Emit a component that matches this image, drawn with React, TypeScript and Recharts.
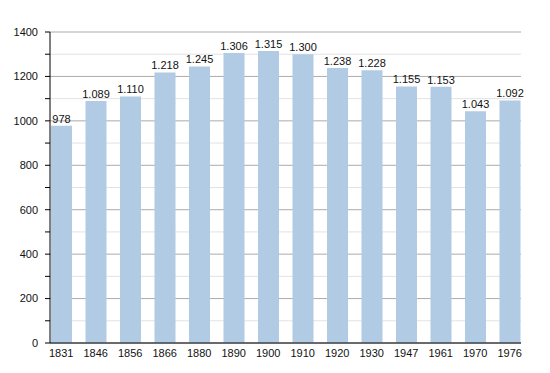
import React from 'react'
import { BarChart, Bar, XAxis, YAxis, CartesianGrid, LabelList } from 'recharts';

const years: string[] = ['1831', '1846', '1856', '1866', '1880', '1890', '1900', '1910', '1920', '1930', '1947', '1961', '1970', '1976'];
const population: number[] = [978, 1089, 1110, 1218, 1245, 1306, 1315, 1300, 1238, 1228, 1155, 1153, 1043, 1092];
const yTicks: number[] = [0, 100, 200, 300, 400, 500, 600, 700, 800, 900, 1000, 1100, 1200, 1300, 1400];
const minorLines: number[] = [100, 300, 500, 700, 900, 1100, 1300];
const majorLines: number[] = [0, 200, 400, 600, 800, 1000, 1200, 1400];

const data = years.map((year, i) => ({ year, value: population[i] }));

const fmt = (v: any) => {
    const n = Number(v);
    return n >= 1000 ? `${Math.floor(n / 1000)}.${String(n % 1000).padStart(3, '0')}` : String(n);
};

const font = { fontFamily: '"Liberation Sans", Arial, sans-serif', fontSize: 11, fill: '#111' };

const App: React.FC = () => {
    return (
        <div style={{ position: 'absolute', left: 0, top: 0 }}>
            <BarChart width={550} height={373} data={data} margin={{ top: 32, right: 29, bottom: 10, left: 5 }}>
                <CartesianGrid vertical={false} horizontalValues={minorLines} stroke="#e2e2e2" />
                <CartesianGrid vertical={false} horizontalValues={majorLines} stroke="#ababab" />
                <XAxis dataKey="year" tickLine={false} axisLine={{ stroke: '#000' }} padding={{ left: -6, right: -6 }}
                    tick={font} height={20} interval={0} tickMargin={0} />
                <YAxis domain={[0, 1400]} ticks={yTicks} interval={0} width={45} tickSize={5} tickMargin={7}
                    tickLine={{ stroke: '#000' }} axisLine={{ stroke: '#000' }}
                    tickFormatter={(v: number) => (v % 200 === 0 ? String(v) : '')} tick={font} />
                <Bar dataKey="value" fill="#b2cbe4" barSize={21} isAnimationActive={false}>
                    <LabelList dataKey="value" position="top" formatter={fmt} style={font} offset={3} />
                </Bar>
            </BarChart>
        </div>
    );
}

export default App
